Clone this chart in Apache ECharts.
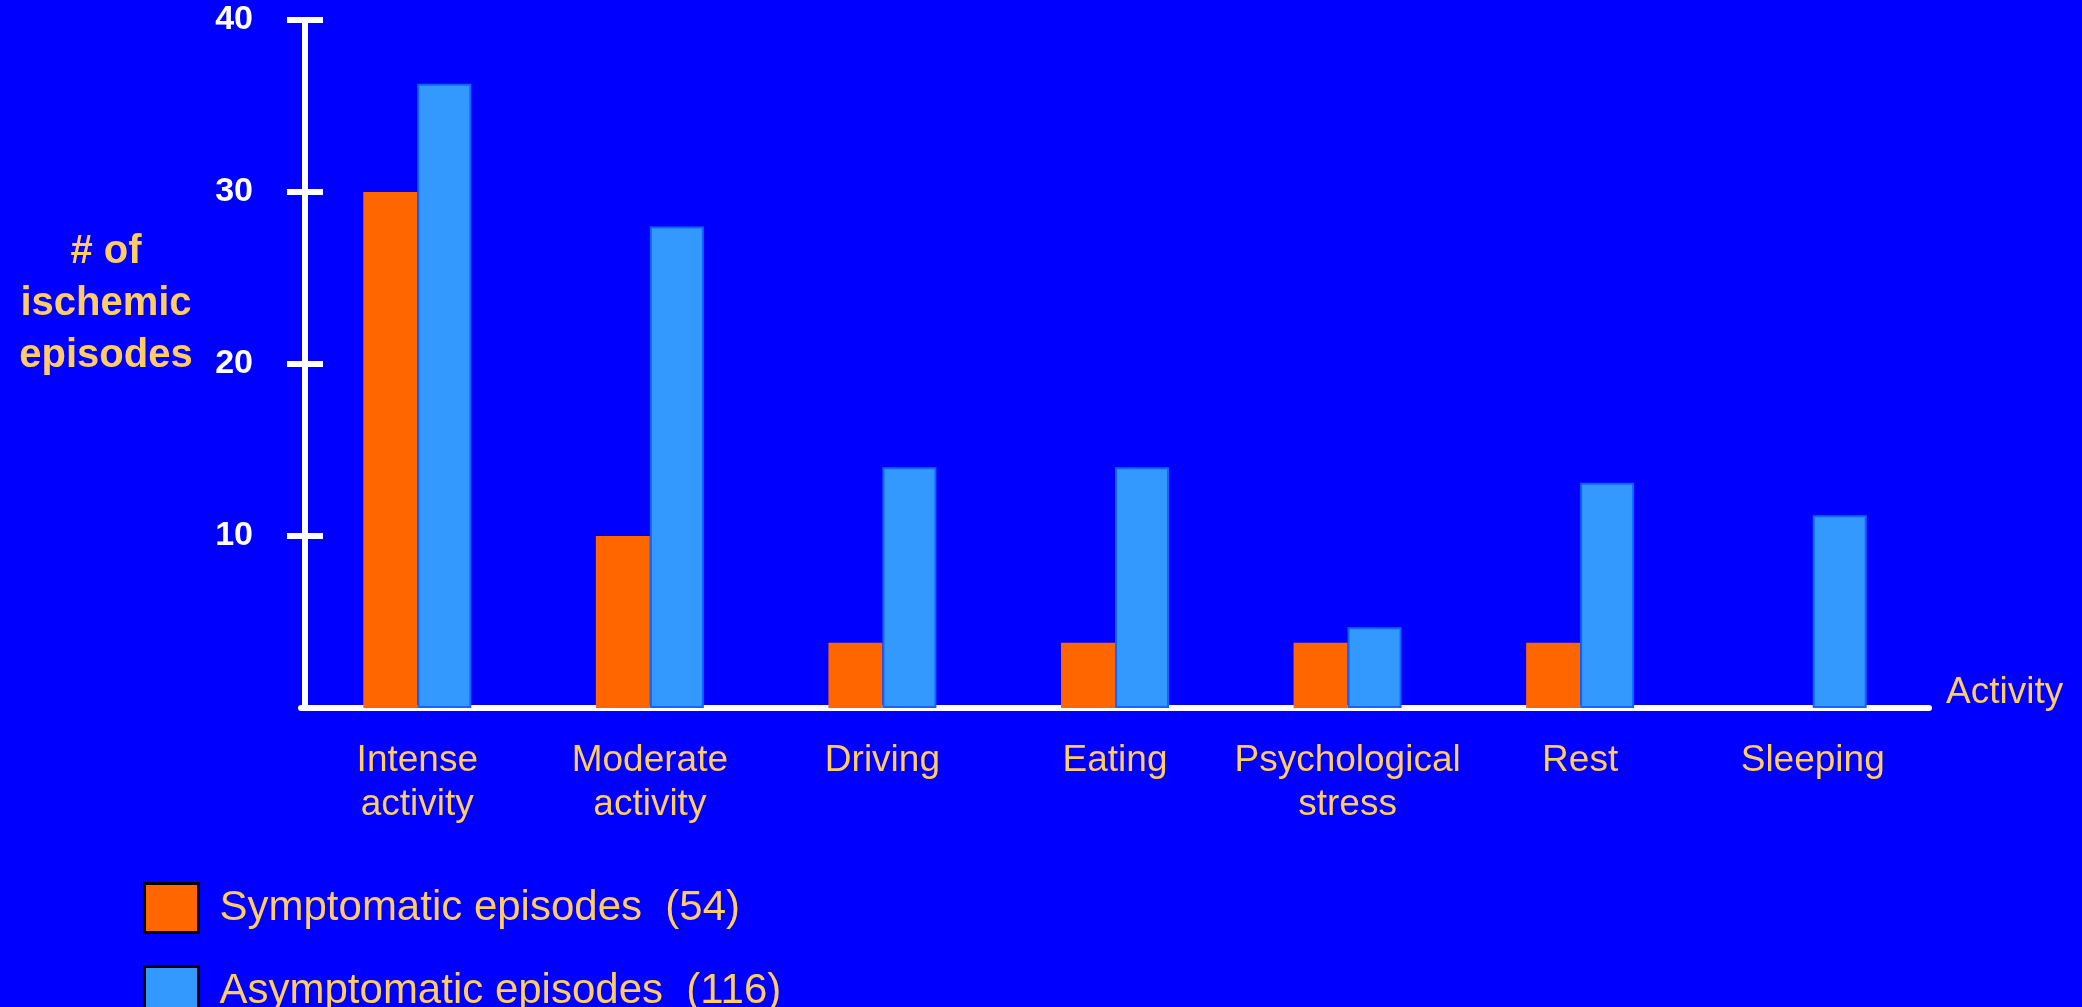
<!DOCTYPE html>
<html>
<head>
<meta charset="utf-8">
<title>Ischemic episodes by activity</title>
<script src="https://cdn.jsdelivr.net/npm/echarts@6/dist/echarts.min.js"></script>
<style>
  html, body { margin: 0; padding: 0; background: #0000ff; }
  #chart { width: 2082px; height: 1007px; }
</style>
</head>
<body>
<div id="chart"></div>
<script>
// activities on the x axis
const categories = ['Intense\nactivity', 'Moderate\nactivity', 'Driving', 'Eating', 'Psychological\nstress', 'Rest', 'Sleeping']
// episode counts
const symptomatic = [30, 10, 3.8, 3.8, 3.8, 3.8, 0]
const asymptomatic = [36.3, 28, 14, 14, 4.7, 13.1, 11.2]
const yTicks = [10, 20, 30, 40]
const seriesNames = ['Symptomatic episodes  (54)', 'Asymptomatic episodes  (116)']

const font = 'Liberation Sans, Arial, sans-serif'
const gold = '#ffcc66'

const chart = echarts.init(document.getElementById('chart'))

// y axis ticks cross the line, so a second axis draws the inner half
const yBase = {
  type: 'value',
  min: 0,
  max: 40,
  interval: 10,
  position: 'left',
  offset: -4,
  splitLine: { show: false }
}

chart.setOption({
  backgroundColor: '#0000ff',
  animation: false,
  grid: {
    left: 301,
    right: 153,
    top: 20,
    bottom: 299,
    containLabel: false,
    outerBoundsMode: 'none'
  },
  legend: {
    orient: 'vertical',
    left: 143,
    top: 882,
    height: 300,
    padding: 0,
    itemWidth: 54,
    itemHeight: 49,
    itemGap: 31,
    icon: 'rect',
    selectedMode: false,
    itemStyle: { borderColor: '#000', borderWidth: 3 },
    textStyle: { color: gold, fontSize: 42, fontFamily: font, padding: [0, 0, 0, 16] },
    data: seriesNames
  },
  xAxis: {
    type: 'category',
    data: categories,
    name: 'Activity',
    nameLocation: 'end',
    nameGap: 17,
    nameTextStyle: { color: gold, fontSize: 37, fontFamily: font, verticalAlign: 'bottom', lineHeight: 30 },
    axisLine: { lineStyle: { color: '#fff', width: 6 } },
    axisTick: { show: false },
    axisLabel: {
      interval: 0,
      color: gold,
      fontSize: 37,
      lineHeight: 44,
      fontFamily: font,
      margin: 31
    }
  },
  yAxis: [
    Object.assign({}, yBase, {
      axisLine: { show: true, lineStyle: { color: '#fff', width: 6 } },
      axisTick: { show: true, length: 18, customValues: yTicks, lineStyle: { color: '#fff', width: 6 } },
      axisLabel: {
        customValues: yTicks,
        color: '#fff',
        fontSize: 34,
        fontWeight: 'bold',
        fontFamily: font,
        margin: 52
      }
    }),
    Object.assign({}, yBase, {
      axisLine: { show: false },
      axisTick: { show: true, inside: true, length: 18, customValues: yTicks, lineStyle: { color: '#fff', width: 6 } },
      axisLabel: { show: false }
    })
  ],
  graphic: [{
    type: 'text',
    x: 106,
    y: 304,
    style: {
      text: '# of\nischemic\nepisodes',
      fill: gold,
      fontSize: 40,
      fontWeight: 'bold',
      fontFamily: font,
      lineHeight: 52,
      align: 'center',
      verticalAlign: 'middle'
    }
  }],
  series: [
    {
      name: seriesNames[0],
      type: 'bar',
      data: symptomatic,
      barWidth: 54,
      barGap: '0%',
      itemStyle: { color: '#ff6600' }
    },
    {
      name: seriesNames[1],
      type: 'bar',
      data: asymptomatic,
      barWidth: 54,
      barGap: '0%',
      itemStyle: { color: '#3399ff', borderColor: '#1166ff', borderWidth: 2 }
    }
  ]
})
</script>
</body>
</html>
